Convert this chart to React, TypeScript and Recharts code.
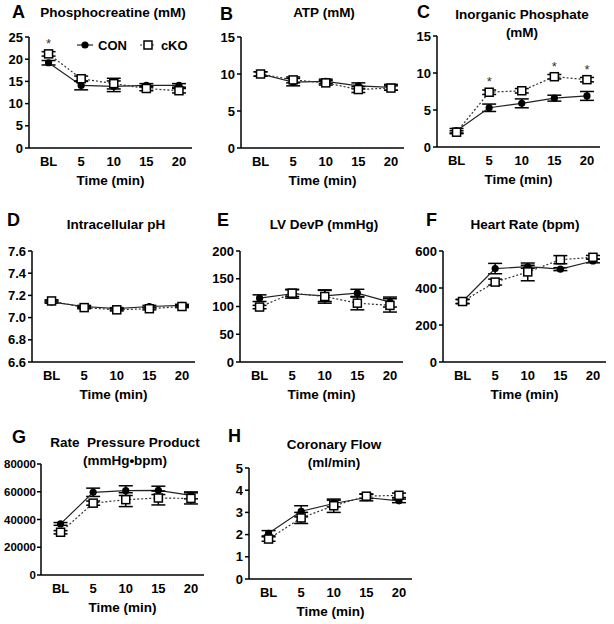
import React from 'react';
import { LineChart, Line, XAxis, YAxis, ErrorBar, LabelList } from 'recharts';

const timeLabels = ['BL', '5', '10', '15', '20'];

// A – Phosphocreatine (mM)
const pcrCon = [19.2, 14.1, 13.9, 14.1, 14.1];
const pcrConErr = [0.5, 1.0, 1.2, 0.4, 0.4];
const pcrKo = [21.2, 15.6, 14.5, 13.4, 12.9];
const pcrKoErr = [0.5, 0.6, 1.2, 0.5, 0.5];
const pcrSig = [1, 0, 0, 0, 0];
const pcrTicks = [0, 5, 10, 15, 20, 25];

// B – ATP (mM)
const atpCon = [10.0, 8.9, 9.0, 8.4, 8.2];
const atpConErr = [0.3, 0.5, 0.3, 0.4, 0.4];
const atpKo = [10.0, 9.2, 8.8, 7.9, 8.1];
const atpKoErr = [0.3, 0.4, 0.3, 0.4, 0.3];
const atpTicks = [0, 5, 10, 15];

// C – Inorganic phosphate (mM)
const piCon = [2.2, 5.3, 5.9, 6.6, 6.9];
const piConErr = [0.3, 0.5, 0.6, 0.4, 0.6];
const piKo = [2.0, 7.4, 7.6, 9.5, 9.1];
const piKoErr = [0.2, 0.3, 0.3, 0.3, 0.3];
const piSig = [0, 1, 0, 1, 1];
const piTicks = [0, 5, 10, 15];

// D – Intracellular pH
const phCon = [7.14, 7.1, 7.08, 7.1, 7.11];
const phConErr = [0.01, 0.01, 0.01, 0.01, 0.01];
const phKo = [7.15, 7.09, 7.07, 7.08, 7.1];
const phKoErr = [0.01, 0.01, 0.01, 0.01, 0.01];
const phTicks = [6.6, 6.8, 7.0, 7.2, 7.4, 7.6];

// E – LV DevP (mmHg)
const devpCon = [115, 123, 119, 124, 108];
const devpConErr = [6, 8, 10, 7, 9];
const devpKo = [99, 124, 118, 106, 102];
const devpKoErr = [3, 6, 12, 12, 12];
const devpTicks = [0, 50, 100, 150, 200];

// F – Heart rate (bpm)
const hrCon = [327, 505, 515, 502, 546];
const hrConErr = [10, 28, 8, 8, 10];
const hrKo = [327, 432, 487, 553, 566];
const hrKoErr = [12, 16, 48, 22, 10];
const hrTicks = [0, 200, 400, 600];

// G – Rate pressure product (mmHg•bpm)
const rppCon = [36800, 59600, 60800, 61000, 57400];
const rppConErr = [1000, 3000, 3500, 3000, 2500];
const rppKo = [30800, 51800, 54300, 55500, 55200];
const rppKoErr = [1200, 1500, 5000, 5000, 4000];
const rppTicks = [0, 20000, 40000, 60000, 80000];

// H – Coronary flow (ml/min)
const cfCon = [2.06, 3.05, 3.4, 3.67, 3.52];
const cfConErr = [0.12, 0.25, 0.15, 0.15, 0.08];
const cfKo = [1.8, 2.75, 3.3, 3.73, 3.77];
const cfKoErr = [0.1, 0.25, 0.3, 0.1, 0.1];
const cfTicks = [0, 1, 2, 3, 4, 5];

const FONT = '"Liberation Sans", Arial, sans-serif';
const Y_W = 60;
const PLOT_W = 163;
const PLOT_H = 111;
const TOP_M = 10;
const X_H = 42;

type PanelDef = {
  letter: string;
  title: string[];
  con: number[];
  conErr: number[];
  ko: number[];
  koErr: number[];
  sig?: number[];
  ticks: number[];
  decimals?: number;
  yFont?: number;
  axisX: number;
  top: number;
  letterX: number;
  letterY: number;
  titleX: number;
  titleY: number;
};

const panels: PanelDef[] = [
  { letter: 'A', title: ['Phosphocreatine (mM)'], con: pcrCon, conErr: pcrConErr, ko: pcrKo, koErr: pcrKoErr, sig: pcrSig, ticks: pcrTicks, axisX: 29, top: 37, letterX: 12, letterY: 3, titleX: 113, titleY: 13 },
  { letter: 'B', title: ['ATP (mM)'], con: atpCon, conErr: atpConErr, ko: atpKo, koErr: atpKoErr, ticks: atpTicks, axisX: 241, top: 37, letterX: 220, letterY: 5, titleX: 324, titleY: 13 },
  { letter: 'C', title: ['Inorganic Phosphate', '(mM)'], con: piCon, conErr: piConErr, ko: piKo, koErr: piKoErr, sig: piSig, ticks: piTicks, axisX: 437, top: 36, letterX: 417, letterY: 3, titleX: 522, titleY: 15 },
  { letter: 'D', title: ['Intracellular pH'], con: phCon, conErr: phConErr, ko: phKo, koErr: phKoErr, ticks: phTicks, decimals: 1, axisX: 32, top: 251, letterX: 7, letterY: 211, titleX: 116, titleY: 225 },
  { letter: 'E', title: ['LV DevP (mmHg)'], con: devpCon, conErr: devpConErr, ko: devpKo, koErr: devpKoErr, ticks: devpTicks, axisX: 240, top: 251, letterX: 217, letterY: 211, titleX: 324, titleY: 225 },
  { letter: 'F', title: ['Heart Rate (bpm)'], con: hrCon, conErr: hrConErr, ko: hrKo, koErr: hrKoErr, ticks: hrTicks, axisX: 443, top: 251, letterX: 426, letterY: 211, titleX: 525, titleY: 225 },
  { letter: 'G', title: ['Rate  Pressure Product', '(mmHg\u2022bpm)'], con: rppCon, conErr: rppConErr, ko: rppKo, koErr: rppKoErr, ticks: rppTicks, yFont: 11.5, axisX: 41, top: 464, letterX: 12, letterY: 428, titleX: 125, titleY: 443 },
  { letter: 'H', title: ['Coronary Flow', '(ml/min)'], con: cfCon, conErr: cfConErr, ko: cfKo, koErr: cfKoErr, ticks: cfTicks, axisX: 249, top: 468, letterX: 228, letterY: 427, titleX: 334, titleY: 445 },
];

function CircleDot(props: any) {
  const { cx, cy, index } = props;
  if (cx == null || cy == null) return null;
  return <circle key={`c${index}`} cx={cx} cy={cy} r={3.6} fill="#000" />;
}

function SquareDot(props: any) {
  const { cx, cy, index } = props;
  if (cx == null || cy == null) return null;
  return (
    <rect key={`s${index}`} x={cx - 4} y={cy - 4} width={8} height={8} fill="#fff" stroke="#000" strokeWidth={1.5} />
  );
}

function StarLabel(props: any) {
  const { x, y, value } = props;
  if (!value) return null;
  return (
    <text x={x} y={y - 6} textAnchor="middle" fontSize={13} fill="#333">
      *
    </text>
  );
}

function Panel({ p }: { p: PanelDef }) {
  const data = timeLabels.map((_, i) => ({
    i,
    con: p.con[i],
    conErr: p.conErr[i],
    ko: p.ko[i],
    koErr: p.koErr[i],
    sig: p.sig ? p.sig[i] : 0,
  }));
  const tickStyle = { fontSize: 13, fontWeight: 700, fill: '#000', fontFamily: FONT };
  const axisStyle = { stroke: '#000', strokeWidth: 1.5 };
  const yTickStyle = { ...tickStyle, fontSize: p.yFont ?? 13 };

  return (
    <>
      <div style={{ position: 'absolute', left: p.letterX, top: p.letterY, fontSize: 18, fontWeight: 700, lineHeight: '18px' }}>
        {p.letter}
      </div>
      {p.title.map((line, k) => (
        <div
          key={k}
          style={{
            position: 'absolute',
            left: p.titleX - 110,
            width: 220,
            top: p.titleY - 8 + k * 18,
            textAlign: 'center',
            fontSize: 13.5,
            fontWeight: 700,
            lineHeight: '16px',
            whiteSpace: 'pre',
          }}
        >
          {line}
        </div>
      ))}
      <div style={{ position: 'absolute', left: p.axisX - Y_W, top: p.top - TOP_M }}>
        <LineChart
          width={Y_W + PLOT_W + 6}
          height={TOP_M + PLOT_H + X_H}
          data={data}
          margin={{ top: TOP_M, right: 6, bottom: 0, left: 0 }}
        >
          <XAxis
            dataKey="i"
            type="number"
            domain={[-0.6, 4.4]}
            ticks={[0, 1, 2, 3, 4]}
            tickFormatter={(v: number) => timeLabels[v]}
            tickLine={false}
            tickSize={5}
            tickMargin={4}
            axisLine={axisStyle}
            tick={tickStyle}
            height={X_H}
            allowDataOverflow
            label={{ value: 'Time (min)', position: 'insideBottom', offset: 5, style: { ...tickStyle, fontSize: 13.5 } }}
          />
          <YAxis
            type="number"
            domain={[p.ticks[0], p.ticks[p.ticks.length - 1]]}
            ticks={p.ticks}
            width={Y_W}
            tickSize={4}
            tickMargin={p.yFont ? 1 : 2}
            tickLine={axisStyle}
            axisLine={axisStyle}
            tick={yTickStyle}
            tickFormatter={(v: number) => (p.decimals ? v.toFixed(p.decimals) : String(v))}
            allowDataOverflow
          />
          <Line
            dataKey="con"
            stroke="#222"
            strokeWidth={1.2}
            dot={CircleDot}
            activeDot={false}
            isAnimationActive={false}
          >
            <ErrorBar dataKey="conErr" width={7} stroke="#000" strokeWidth={1.5} />
          </Line>
          <Line
            dataKey="ko"
            stroke="#333"
            strokeWidth={1.2}
            strokeDasharray="2 2"
            dot={SquareDot}
            activeDot={false}
            isAnimationActive={false}
          >
            <ErrorBar dataKey="koErr" width={7} stroke="#000" strokeWidth={1.5} />
            <LabelList dataKey="sig" content={StarLabel} />
          </Line>
        </LineChart>
      </div>
    </>
  );
}

function LegendBox() {
  return (
    <div style={{ position: 'absolute', left: 76, top: 37, display: 'flex', alignItems: 'center', fontSize: 13, fontWeight: 700 }}>
      <svg width={18} height={16}>
        <line x1={1} y1={8} x2={17} y2={8} stroke="#222" strokeWidth={1.2} />
        <circle cx={9} cy={8} r={3.6} fill="#000" />
      </svg>
      <span style={{ marginLeft: 4 }}>CON</span>
      <svg width={18} height={16} style={{ marginLeft: 12 }}>
        <line x1={1} y1={8} x2={17} y2={8} stroke="#333" strokeWidth={1.2} strokeDasharray="2 2" />
        <rect x={5} y={4} width={8} height={8} fill="#fff" stroke="#000" strokeWidth={1.5} />
      </svg>
      <span style={{ marginLeft: 4 }}>cKO</span>
    </div>
  );
}

export default function App() {
  return (
    <div style={{ position: 'absolute', left: 0, top: 0, width: 614, height: 624, background: '#fff', fontFamily: FONT, color: '#000' }}>
      {panels.map((p) => (
        <Panel key={p.letter} p={p} />
      ))}
      <LegendBox />
    </div>
  );
}
